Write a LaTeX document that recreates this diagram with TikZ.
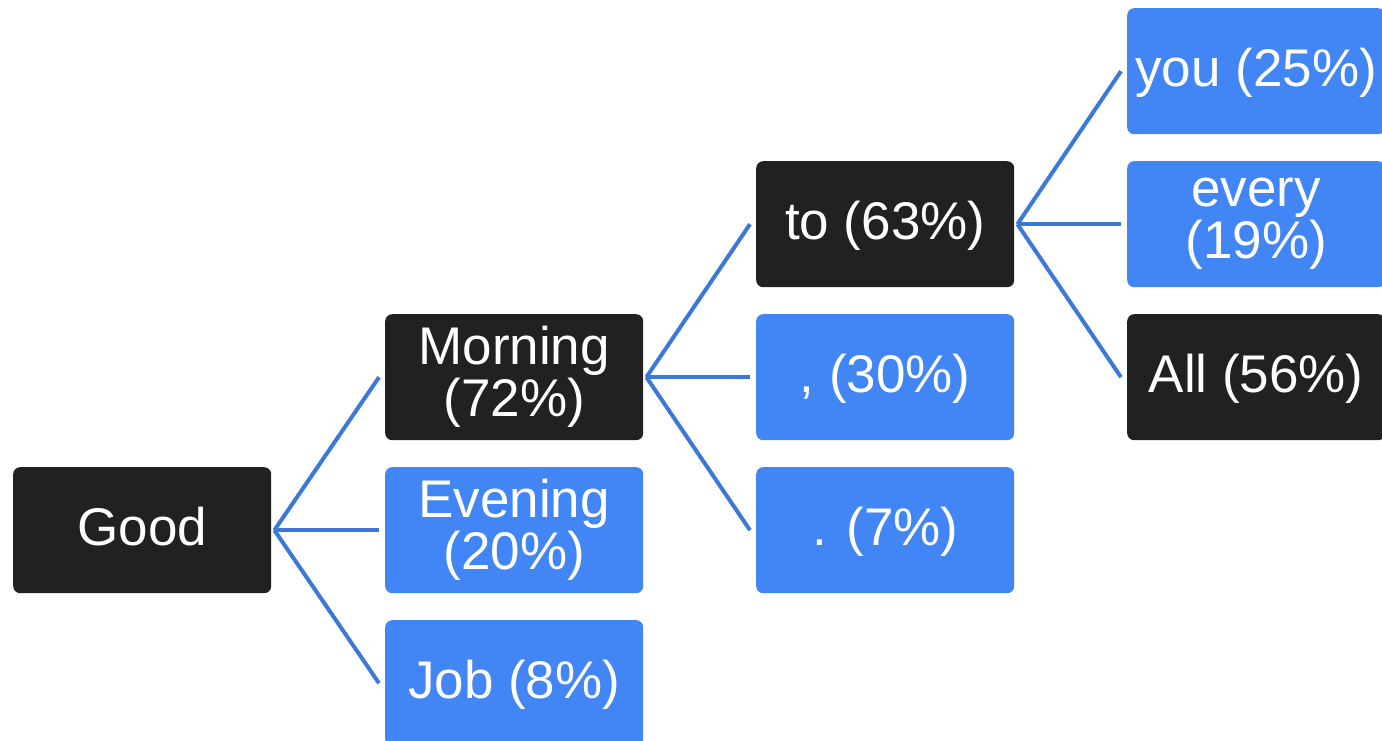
\documentclass[tikz,border=0pt]{standalone}
\usepackage{fontspec}
\setmainfont{Liberation Sans}
\definecolor{boxdark}{HTML}{212121}
\definecolor{boxblue}{HTML}{4285F4}
\definecolor{linkblue}{HTML}{3C78D8}
\begin{document}
\begin{tikzpicture}[x=1pt,y=-1pt,
  box/.style={anchor=north west, minimum width=258pt, minimum height=126pt,
    rounded corners=7pt, text=white, inner sep=0pt, align=center,
    font=\fontsize{53}{52}\selectfont},
  oneline/.style={text height=42pt, text depth=11pt},
  darkbox/.style={box, fill=boxdark},
  bluebox/.style={box, fill=boxblue},
  link/.style={draw=linkblue, line width=4pt}]
\useasboundingbox (0,0) rectangle (1382,741);
\node[darkbox, oneline] (good) at (13,467) {Good};
\node[darkbox] (morning) at (385,314) {Morning\\(72\%)};
\node[bluebox] (evening) at (385,467) {Evening\\(20\%)};
\node[bluebox, oneline] (job) at (385,620) {Job (8\%)};
\node[darkbox, oneline] (to) at (756,161) {to (63\%)};
\node[bluebox, oneline] (comma) at (756,314) {, (30\%)};
\node[bluebox, oneline] (dot) at (756,467) {. (7\%)};
\node[bluebox, oneline] (you) at (1127,8) {you (25\%)};
\node[bluebox] (every) at (1127,161) {every\\(19\%)};
\node[darkbox, oneline] (all) at (1127,314) {All (56\%)};
\foreach \p/\c in {good/morning,good/evening,good/job,
                   morning/to,morning/comma,morning/dot,
                   to/you,to/every,to/all}{
  \draw[link] ([xshift=3pt]\p.east) -- ([xshift=-6pt]\c.west);
}
\end{tikzpicture}
\end{document}
